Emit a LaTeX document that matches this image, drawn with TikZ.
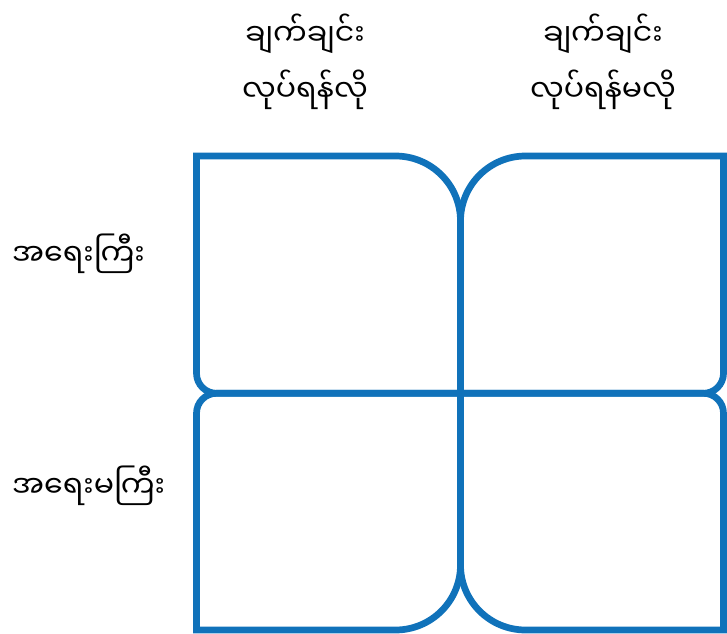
\documentclass[tikz,border=0pt]{standalone}
\usepackage{fontspec}
\usepackage{xcolor}
\usepackage{tikz}
\usetikzlibrary{positioning}
\newfontfamily\mmfont[Script=Myanmar]{Noto Sans Myanmar UI}
\definecolor{quadblue}{RGB}{16,114,186}
\tikzset{
    quad/.style={line width=6.7pt, draw=quadblue, line join=miter},
    head/.style={font=\mmfont\fontsize{30}{56}\selectfont, align=center, inner sep=0pt},
    rowlabel/.style={font=\mmfont\fontsize{30}{36}\selectfont, anchor=west, inner sep=0pt}
}

\begin{document}
\begin{tikzpicture}[x=1pt,y=1pt]
                \useasboundingbox (0,0) rectangle (727,633);

                % top left
                \draw[quad] (196.5,477) -- (395.5,477)
                    arc[start angle=90, end angle=0, radius=65] -- (460.5,239.7)
                    -- (216.5,239.7) arc[start angle=270, end angle=180, radius=20] -- cycle;

                % top right
                \draw[quad] (723.5,477) -- (525.5,477)
                    arc[start angle=90, end angle=180, radius=65] -- (460.5,239.7)
                    -- (703.5,239.7) arc[start angle=270, end angle=360, radius=20] -- cycle;

                % bottom left
                \draw[quad] (196.5,3) -- (395.5,3)
                    arc[start angle=270, end angle=360, radius=65] -- (460.5,239.7)
                    -- (216.5,239.7) arc[start angle=90, end angle=180, radius=20] -- cycle;

                % bottom right
                \draw[quad] (723.5,3) -- (525.5,3)
                    arc[start angle=270, end angle=180, radius=65] -- (460.5,239.7)
                    -- (703.5,239.7) arc[start angle=90, end angle=0, radius=20] -- cycle;

                \node[head] (urgent) at (305,571) {ချက်ချင်း\\လုပ်ရန်လို};
                \node[head] (noturgent) at (603,571) {ချက်ချင်း\\လုပ်ရန်မလို};

                \node[rowlabel] (important) at (12,379) {အရေးကြီး};
                \node[rowlabel] (notimportant) at (12,147) {အရေးမကြီး};

            \end{tikzpicture}
\end{document}
